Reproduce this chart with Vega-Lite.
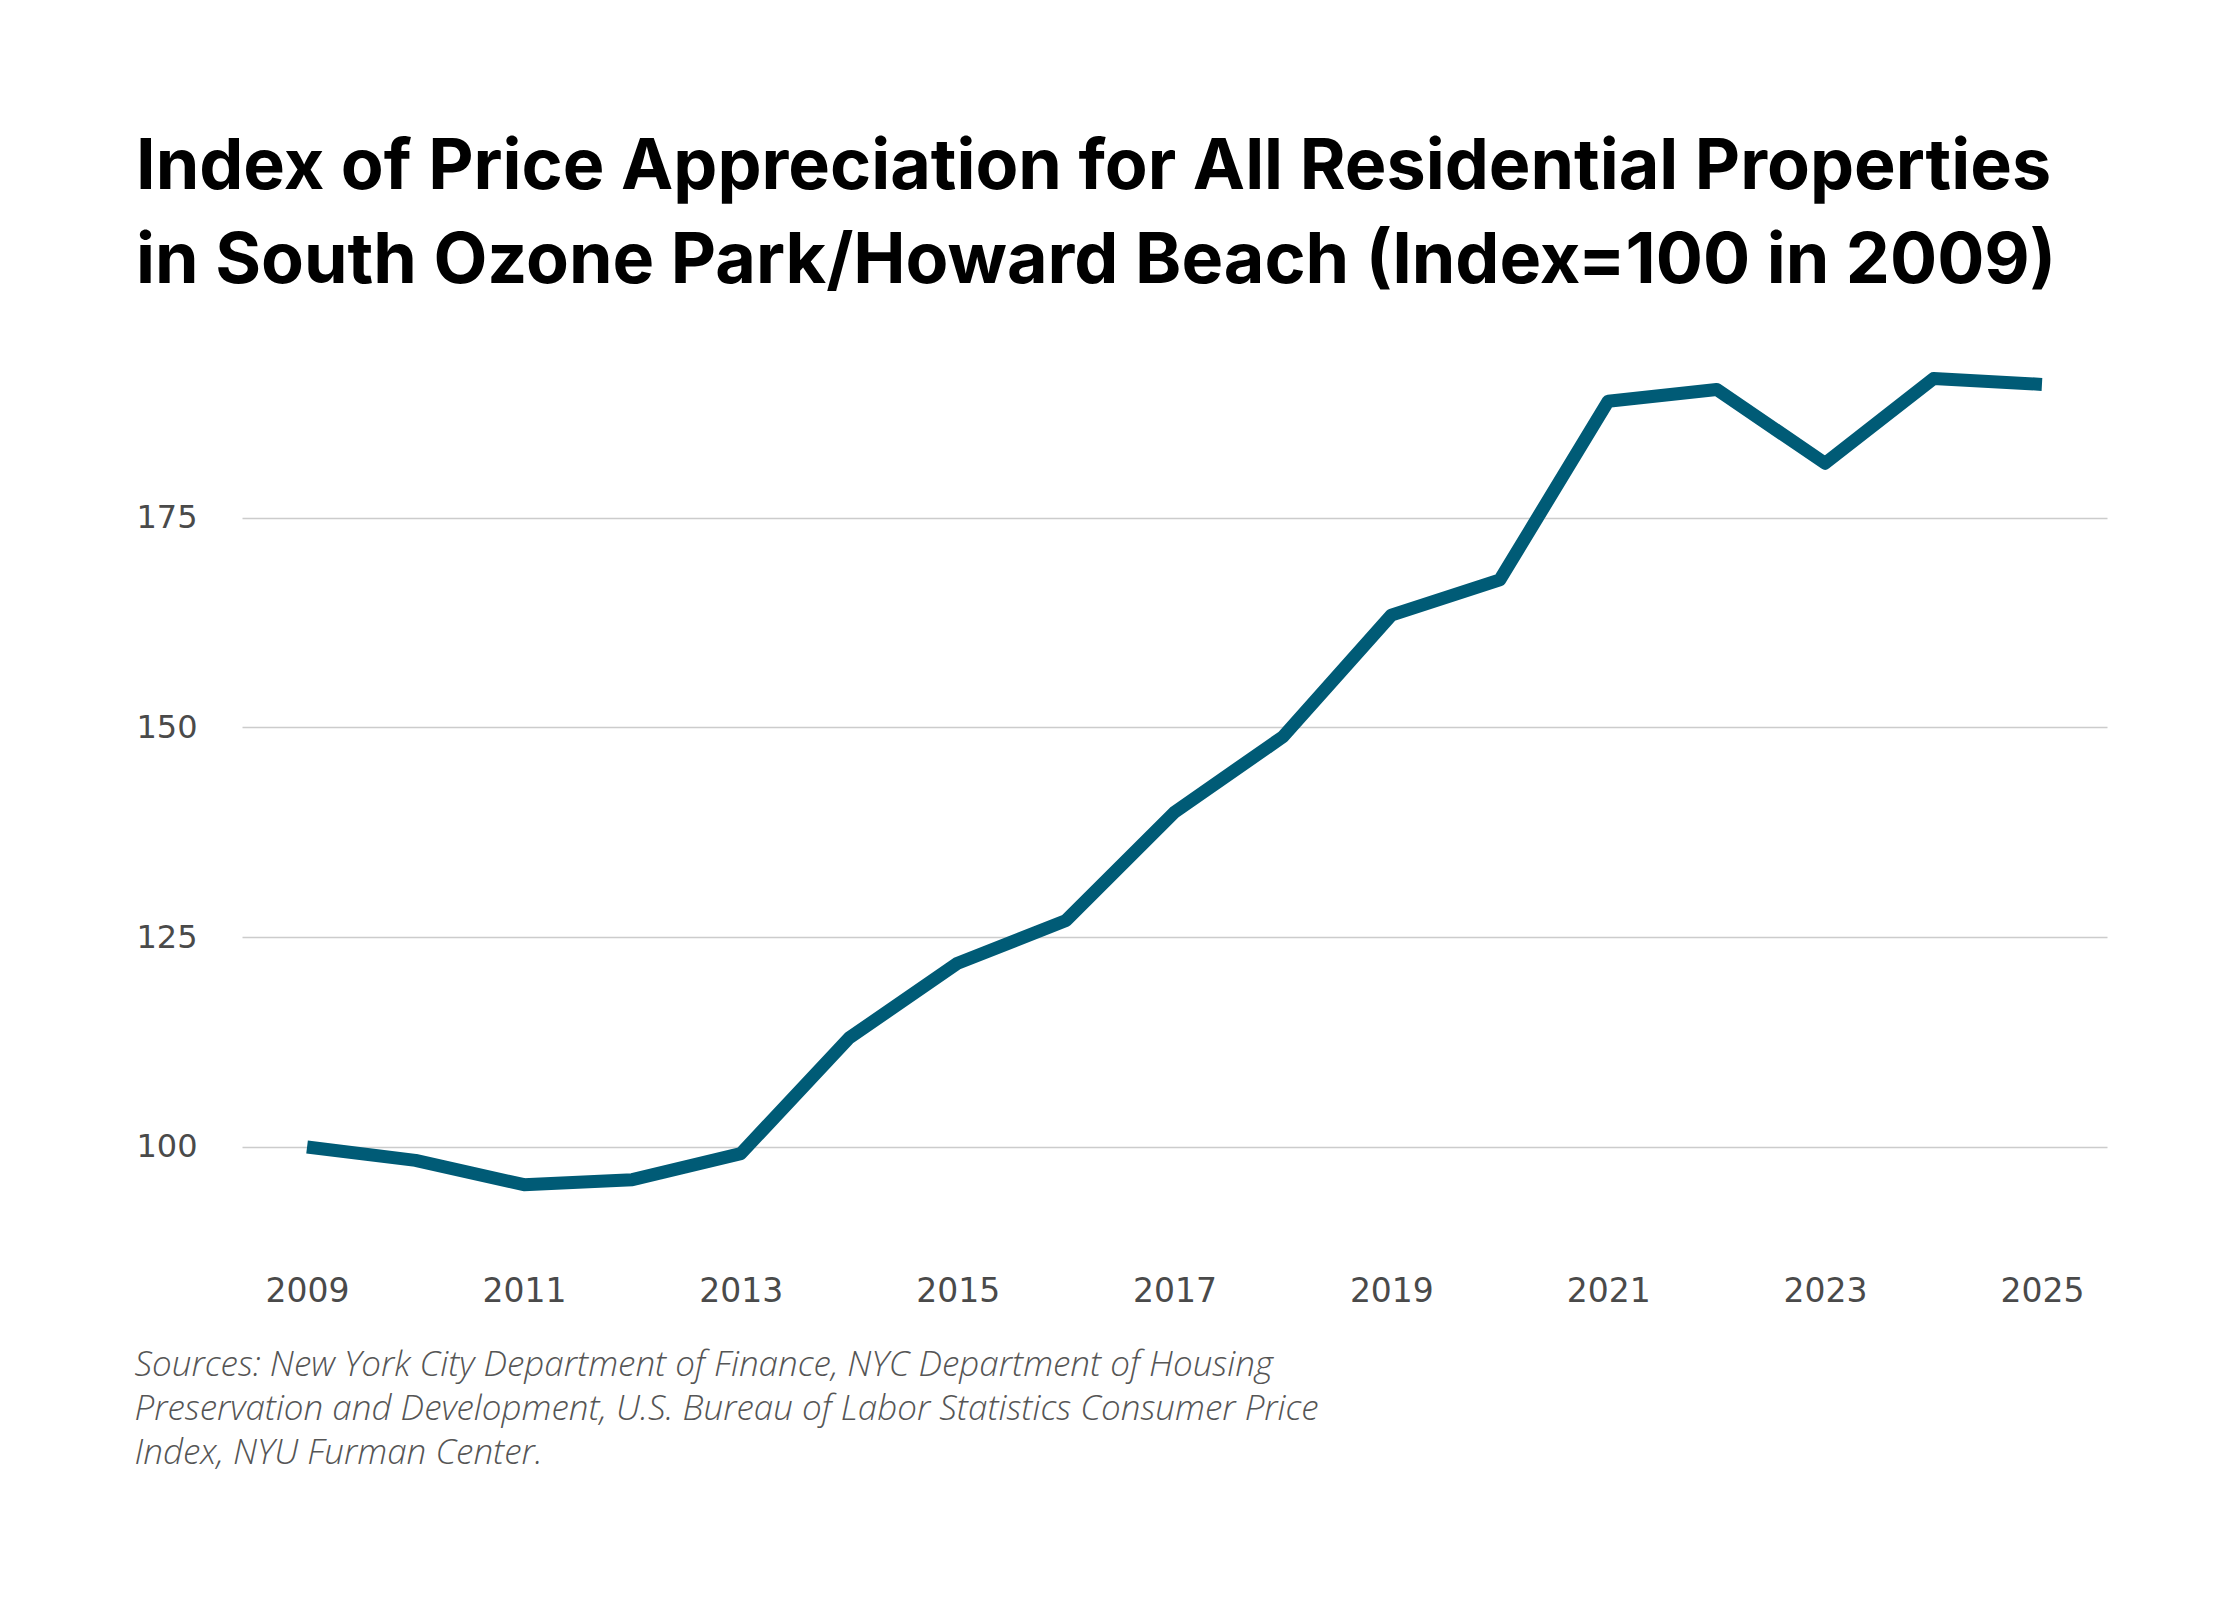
{
  "$schema": "https://vega.github.io/schema/vega-lite/v6.json",
  "description": "Index of price appreciation for all residential properties in South Ozone Park/Howard Beach, 2009 = 100.",
  "autosize": "none",
  "padding": {"left": 242, "top": 350, "right": 133, "bottom": 344},
  "width": 1865,
  "height": 906,
  "background": "white",
  "title": {
    "text": [
      "Index of Price Appreciation for All Residential Properties",
      "in South Ozone Park/Howard Beach (Index=100 in 2009)"
    ],
    "anchor": "start",
    "frame": "group",
    "dx": -106,
    "offset": 52,
    "font": "Inter",
    "fontSize": 70,
    "fontWeight": "bold",
    "lineHeight": 94,
    "color": "#000000"
  },
  "data": {
    "values": [
      {"year": 2009, "index": 100.0},
      {"year": 2010, "index": 98.4},
      {"year": 2011, "index": 95.5},
      {"year": 2012, "index": 96.1},
      {"year": 2013, "index": 99.2},
      {"year": 2014, "index": 113.0},
      {"year": 2015, "index": 121.9},
      {"year": 2016, "index": 127.0},
      {"year": 2017, "index": 139.9},
      {"year": 2018, "index": 148.9},
      {"year": 2019, "index": 163.4},
      {"year": 2020, "index": 167.6},
      {"year": 2021, "index": 188.9},
      {"year": 2022, "index": 190.3},
      {"year": 2023, "index": 181.5},
      {"year": 2024, "index": 191.6},
      {"year": 2025, "index": 190.9}
    ]
  },
  "mark": {
    "type": "line",
    "color": "#005b76",
    "strokeWidth": 13,
    "strokeJoin": "round",
    "strokeCap": "butt"
  },
  "encoding": {
    "x": {
      "field": "year",
      "type": "quantitative",
      "scale": {"domain": [2008.4, 2025.6], "nice": false, "zero": false},
      "axis": {
        "values": [2009, 2011, 2013, 2015, 2017, 2019, 2021, 2023, 2025],
        "format": "d",
        "grid": false,
        "domain": false,
        "ticks": false,
        "labelPadding": 19,
        "labelFont": "DejaVu Sans",
        "labelFontSize": 33,
        "labelColor": "#4a4a4a",
        "title": [
          "Sources: New York City Department of Finance, NYC Department of Housing",
          "Preservation and Development, U.S. Bureau of Labor Statistics Consumer Price",
          "Index, NYU Furman Center."
        ],
        "titleAnchor": "start",
        "titleAlign": "left",
        "titleBaseline": "alphabetic",
        "titleX": -108,
        "titleY": 119,
        "titleFont": "Open Sans",
        "titleFontStyle": "italic",
        "titleFontWeight": 300,
        "titleFontSize": 35,
        "titleLineHeight": 44,
        "titleColor": "#555555"
      }
    },
    "y": {
      "field": "index",
      "type": "quantitative",
      "scale": {"domain": [87, 195], "nice": false, "zero": false},
      "axis": {
        "values": [100, 125, 150, 175],
        "grid": true,
        "gridColor": "#cccccc",
        "gridWidth": 1.6,
        "domain": false,
        "ticks": false,
        "labelPadding": 45,
        "labelFont": "DejaVu Sans",
        "labelFontSize": 32,
        "labelColor": "#4a4a4a",
        "title": null
      }
    }
  },
  "config": {
    "view": {"stroke": "transparent"}
  }
}
